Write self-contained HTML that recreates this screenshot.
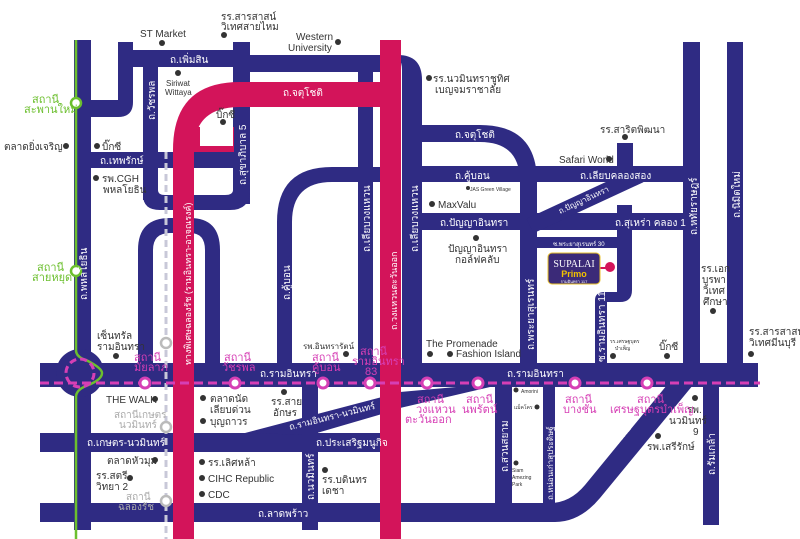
<!DOCTYPE html>
<html><head><meta charset="utf-8"><style>
html,body{margin:0;padding:0;background:#fff;width:800px;height:539px;overflow:hidden}
svg{display:block}
text{font-family:"Liberation Sans","Noto Sans CJK SC",sans-serif;font-size:10px;fill:#333}
.w{fill:#fff;font-size:10px}
.m{fill:#d63fb5;font-size:11px}
.g{fill:#aaa;font-size:10px}
.gr{fill:#6cbf2e;font-size:11px}
</style></head><body>
<svg width="800" height="539" viewBox="0 0 800 539" xmlns="http://www.w3.org/2000/svg">
<g fill="#2f2b83" stroke="none">
<rect x="74" y="40" width="17" height="490"/>
<rect x="118" y="42" width="15" height="60"/>
<path d="M90 100 H118 V42 H133 V102 Q133 117 118 117 H90Z"/>
<rect x="118" y="50" width="132" height="17"/>
<rect x="233" y="55" width="150" height="17"/>
<rect x="233" y="42" width="17" height="162"/>
<rect x="143" y="60" width="15" height="140"/>
<path d="M143 190 V195 Q143 210 160 210 H230 Q250 210 250 190 V180 H233 V190 Q233 195 225 195 H165 Q158 195 158 190Z"/>
<rect x="90" y="152" width="145" height="16"/>
<path d="M138 363 V250 Q138 218 170 218 H190 Q220 218 220 250 V363 H205 V250 Q205 233 190 233 H170 Q153 233 153 250 V363Z"/>
<path d="M277 363 V222 Q277 167 332 167 H382 V182 H332 Q292 182 292 222 V363Z"/>
<rect x="358" y="70" width="15" height="293"/>
<path d="M402 363 V70 Q402 55 390 55 H398 Q422 55 422 80 V363Z"/>
<path d="M420 125 H480 Q537 125 537 182 V363 H520 V182 Q520 142 480 142 H420Z"/>
<rect x="420" y="166" width="280" height="16"/>
<rect x="617" y="143" width="16" height="30"/>
<rect x="420" y="213" width="102" height="17"/>
<rect x="535" y="213" width="165" height="17"/>
<line x1="530" y1="226" x2="640" y2="175" stroke="#2f2b83" stroke-width="16"/>
<rect x="537" y="237" width="90" height="11"/>
<path d="M617 205 H632 V290 Q632 302 620 302 H607 V363 H595 V300 Q595 292 605 292 H617Z"/>
<rect x="683" y="42" width="17" height="321"/>
<rect x="727" y="42" width="16" height="321"/>
<rect x="40" y="363" width="718" height="24"/>
<circle cx="80" cy="373" r="24"/>
<rect x="40" y="433" width="342" height="19"/>
<polygon points="245,433 382,397 382,414 310,435"/>
<rect x="40" y="503" width="342" height="19"/>
<rect x="302" y="385" width="16" height="145"/>
<polygon points="400,392 490,384 490,387 400,408"/>
<rect x="495" y="385" width="17" height="120"/>
<rect x="543" y="385" width="12" height="120"/>
<path d="M398 503 H550 Q570 503 585 485 L667 385 H693 L600 498 Q580 522 555 522 H398Z"/>
<rect x="703" y="385" width="16" height="140"/>
</g>
<g fill="#d3145a">
<path d="M173 539 V150 Q173 82 240 82 H382 V107 H240 Q194 107 194 150 V539Z"/>
<rect x="194" y="127" width="40" height="25"/>
<rect x="380" y="40" width="21" height="499"/>
</g>
<rect x="200" y="127" width="33" height="19" fill="#fff"/>
<path d="M76 40 V350 Q76 357 86 360 Q102 368 102 373 Q102 380 86 386 Q76 390 76 397 V539" fill="none" stroke="#6cbf2e" stroke-width="2.5"/>
<circle cx="76" cy="103" r="5" fill="#fff" stroke="#6cbf2e" stroke-width="2.5"/>
<circle cx="76" cy="271" r="5" fill="#fff" stroke="#6cbf2e" stroke-width="2.5"/>
<line x1="166" y1="152" x2="166" y2="539" stroke="#c8c8d8" stroke-width="3" stroke-dasharray="7 4"/>
<circle cx="166" cy="343" r="5" fill="#fff" stroke="#bbb" stroke-width="2.5"/>
<circle cx="166" cy="427" r="5" fill="#fff" stroke="#bbb" stroke-width="2.5"/>
<circle cx="166" cy="501" r="5" fill="#fff" stroke="#bbb" stroke-width="2.5"/>
<line x1="40" y1="383" x2="760" y2="383" stroke="#d63fb5" stroke-width="3" stroke-dasharray="9 5"/>
<circle cx="80" cy="373" r="14" fill="none" stroke="#d63fb5" stroke-width="3" stroke-dasharray="7 4"/>
<g fill="#fff" stroke="#d63fb5" stroke-width="3">
<circle cx="145" cy="383" r="5"/><circle cx="235" cy="383" r="5"/><circle cx="323" cy="383" r="5"/><circle cx="370" cy="383" r="5"/>
<circle cx="427" cy="383" r="5"/><circle cx="478" cy="383" r="5"/><circle cx="575" cy="383" r="5"/><circle cx="647" cy="383" r="5"/>
</g>
<line x1="600" y1="268" x2="610" y2="268" stroke="#d3145a" stroke-width="2"/>
<circle cx="610" cy="267" r="5" fill="#d3145a"/>
<rect x="548" y="253" width="52" height="31" rx="4" fill="#3b2a78" stroke="#e8c12a" stroke-width="1"/>
<text x="574" y="267" text-anchor="middle" style="fill:#fff;font-family:'Liberation Serif',serif;font-size:10px">SUPALAI</text>
<text x="574" y="277" text-anchor="middle" style="fill:#f2c200;font-size:9px;font-weight:bold">Primo</text>
<text x="574" y="283" text-anchor="middle" style="fill:#fff;font-size:4px">รามอินทรา 117</text>
<g fill="#333">
<circle cx="162" cy="43" r="3"/><circle cx="224" cy="35" r="3"/><circle cx="338" cy="42" r="3"/><circle cx="178" cy="73" r="3"/>
<circle cx="223" cy="122" r="3"/><circle cx="66" cy="146" r="3"/><circle cx="97" cy="146" r="3"/><circle cx="96" cy="178" r="3"/>
<circle cx="429" cy="78" r="3"/><circle cx="625" cy="137" r="3"/><circle cx="609" cy="159" r="3"/><circle cx="432" cy="204" r="3"/>
<circle cx="476" cy="238" r="3"/><circle cx="116" cy="356" r="3"/><circle cx="346" cy="354" r="3"/><circle cx="155" cy="399" r="3"/>
<circle cx="203" cy="398" r="3"/><circle cx="203" cy="421" r="3"/><circle cx="284" cy="392" r="3"/><circle cx="155" cy="460" r="3"/>
<circle cx="130" cy="478" r="3"/><circle cx="202" cy="462" r="3"/><circle cx="202" cy="478" r="3"/><circle cx="202" cy="494" r="3"/>
<circle cx="325" cy="470" r="3"/><circle cx="430" cy="354" r="3"/><circle cx="450" cy="354" r="3"/><circle cx="613" cy="356" r="3"/>
<circle cx="667" cy="356" r="3"/><circle cx="713" cy="311" r="3"/><circle cx="751" cy="354" r="3"/><circle cx="516" cy="390" r="2.5"/>
<circle cx="537" cy="407" r="2.5"/><circle cx="516" cy="463" r="2.5"/><circle cx="695" cy="398" r="3"/><circle cx="658" cy="436" r="3"/>
<circle cx="468" cy="188" r="2"/>
</g>
<text x="140" y="37">ST Market</text>
<text x="221" y="20">รร.สารสาสน์</text><text x="221" y="30">วิเทศสายไหม</text>
<text x="296" y="40">Western</text><text x="288" y="51">University</text>
<text x="166" y="86" style="font-size:8px">Siriwat</text><text x="165" y="95" style="font-size:8px">Wittaya</text>
<text x="216" y="118">บิ๊กซี</text>
<text x="4" y="150">ตลาดยิ่งเจริญ</text><text x="102" y="150">บิ๊กซี</text>
<text x="102" y="182">รพ.CGH</text><text x="103" y="193">พหลโยธิน</text>
<text x="433" y="82">รร.นวมินทราชูทิศ</text><text x="435" y="93">เบญจมราชาลัย</text>
<text x="600" y="133">รร.สาริตพิฒนา</text>
<text x="559" y="163">Safari World</text>
<text x="470" y="191" style="font-size:5px">JAS Green Village</text>
<text x="438" y="208">MaxValu</text>
<text x="448" y="252">ปัญญาอินทรา</text><text x="455" y="263">กอล์ฟคลับ</text>
<text x="97" y="339">เซ็นทรัล</text><text x="97" y="350">รามอินทรา</text>
<text x="303" y="349" style="font-size:8px">รพ.อินทรารัตน์</text>
<text x="106" y="403">THE WALK</text>
<text x="210" y="402">ตลาดนัด</text><text x="210" y="413">เลียบด่วน</text><text x="210" y="425">บุญถาวร</text>
<text x="271" y="405">รร.สาย</text><text x="273" y="416">อักษร</text>
<text x="107" y="464">ตลาดหัวมุม</text>
<text x="96" y="479">รร.สตรี</text><text x="96" y="490">วิทยา 2</text>
<text x="208" y="466">รร.เลิศหล้า</text><text x="208" y="482">CIHC Republic</text><text x="208" y="498">CDC</text>
<text x="322" y="483">รร.บดินทร</text><text x="322" y="494">เดชา</text>
<text x="426" y="347">The Promenade</text><text x="456" y="357">Fashion Island</text>
<text x="610" y="343" style="font-size:5px">รร.เศรษฐบุตร</text><text x="615" y="350" style="font-size:5px">บำเพ็ญ</text>
<text x="659" y="350">บิ๊กซี</text>
<text x="701" y="272">รร.เอก</text><text x="702" y="283">บูรพา</text><text x="703" y="294">วิเทศ</text><text x="703" y="305">ศึกษา</text>
<text x="749" y="335">รร.สารสาสน์</text><text x="749" y="346">วิเทศมีนบุรี</text>
<text x="521" y="393" style="font-size:5px">Amorini</text><text x="514" y="409" style="font-size:5px">แม็คโคร</text>
<text x="512" y="472" style="font-size:5px">Siam</text><text x="512" y="479" style="font-size:5px">Amezing</text><text x="512" y="486" style="font-size:5px">Park</text>
<text x="687" y="413">รพ.</text><text x="669" y="424">นวมินทร์</text><text x="693" y="435">9</text>
<text x="647" y="450">รพ.เสรีรักษ์</text>
<text class="w" x="170" y="63">ถ.เพิ่มสิน</text>
<text class="w" x="283" y="96">ถ.จตุโชติ</text>
<text class="w" x="100" y="164">ถ.เทพรักษ์</text>
<text class="w" x="455" y="138">ถ.จตุโชติ</text>
<text class="w" x="455" y="179">ถ.คู้บอน</text>
<text class="w" x="580" y="179">ถ.เลียบคลองสอง</text>
<text class="w" x="440" y="226">ถ.ปัญญาอินทรา</text>
<text class="w" x="615" y="226">ถ.สุเหร่า คลอง 1</text>
<text class="w" x="553" y="246" style="font-size:6px">ซ.พระยาสุเรนทร์ 30</text>
<text class="w" x="560" y="214" style="font-size:8px" transform="rotate(-25 560 214)">ถ.ปัญญาอินทรา</text>
<text class="w" x="260" y="377">ถ.รามอินทรา</text>
<text class="w" x="507" y="377">ถ.รามอินทรา</text>
<text class="w" x="87" y="446">ถ.เกษตร-นวมินทร์</text>
<text class="w" x="316" y="446">ถ.ประเสริฐมนูกิจ</text>
<text class="w" x="290" y="430" style="font-size:9px" transform="rotate(-14 290 430)">ถ.รามอินทรา-นวมินทร์</text>
<text class="w" x="258" y="517">ถ.ลาดพร้าว</text>
<text class="w" x="155" y="120" transform="rotate(-90 155 120)">ถ.วัชรพล</text>
<text class="w" x="246" y="185" transform="rotate(-90 246 185)">ถ.สุขาภิบาล 5</text>
<text class="w" x="87" y="300" transform="rotate(-90 87 300)">ถ.พหลโยธิน</text>
<text class="w" x="290" y="300" transform="rotate(-90 290 300)">ถ.คู้บอน</text>
<text class="w" x="370" y="252" transform="rotate(-90 370 252)">ถ.เลียบวงแหวน</text>
<text class="w" x="418" y="252" transform="rotate(-90 418 252)">ถ.เลียบวงแหวน</text>
<text class="w" x="191" y="365" style="font-size:9px" transform="rotate(-90 191 365)">ทางพิเศษฉลองรัช (รามอินทรา-อาจณรงค์)</text>
<text class="w" x="397" y="330" style="font-size:9px" transform="rotate(-90 397 330)">ถ.วงแหวนตะวันออก</text>
<text class="w" x="534" y="350" transform="rotate(-90 534 350)">ถ.พระยาสุเรนทร์</text>
<text class="w" x="605" y="362" transform="rotate(-90 605 362)">ซ.รามอินทรา 117</text>
<text class="w" x="697" y="235" transform="rotate(-90 697 235)">ถ.หทัยราษฎร์</text>
<text class="w" x="740" y="218" transform="rotate(-90 740 218)">ถ.นิมิตใหม่</text>
<text class="w" x="314" y="500" transform="rotate(-90 314 500)">ถ.นวมินทร์</text>
<text class="w" x="508" y="472" transform="rotate(-90 508 472)">ถ.สวนสยาม</text>
<text class="w" x="553" y="500" style="font-size:8px" transform="rotate(-90 553 500)">ถ.หน่อนเก่าสุประดิษฐ์</text>
<text class="w" x="715" y="475" transform="rotate(-90 715 475)">ถ.รัมเกล้า</text>
<text class="w" x="605" y="460" transform="rotate(-50 605 460)">ถ.เสรีไทย</text>
<text class="gr" x="32" y="103">สถานี</text><text class="gr" x="24" y="113">สะพานใหม่</text>
<text class="gr" x="37" y="271">สถานี</text><text class="gr" x="32" y="281">สายหยุด</text>
<text class="m" x="134" y="361">สถานี</text><text class="m" x="134" y="371">มัยลาภ</text>
<text class="m" x="224" y="361">สถานี</text><text class="m" x="222" y="371">วัชรพล</text>
<text class="m" x="312" y="361">สถานี</text><text class="m" x="312" y="371">คู้บอน</text>
<text class="m" x="360" y="355">สถานี</text><text class="m" x="352" y="365">รามอินทรา</text><text class="m" x="365" y="375">83</text>
<text class="m" x="417" y="403">สถานี</text><text class="m" x="416" y="413">วงแหวน</text><text class="m" x="405" y="423">ตะวันออก</text>
<text class="m" x="466" y="403">สถานี</text><text class="m" x="462" y="413">นพรัตน์</text>
<text class="m" x="565" y="403">สถานี</text><text class="m" x="563" y="413">บางชัน</text>
<text class="m" x="637" y="403">สถานี</text><text class="m" x="610" y="413">เศรษฐบุตรบำเพ็ญ</text>
<text class="g" x="114" y="418">สถานีเกษตร</text><text class="g" x="119" y="428">นวมินทร์</text>
<text class="g" x="126" y="500">สถานี</text><text class="g" x="118" y="510">ฉลองรัช</text>
</svg>
</body></html>
